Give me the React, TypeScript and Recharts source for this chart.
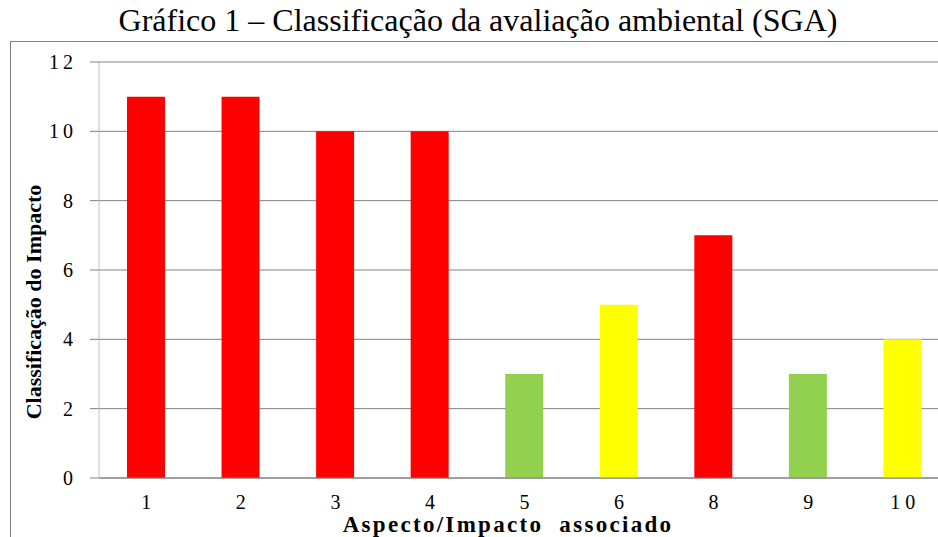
import React from 'react';
import { BarChart, Bar, XAxis, YAxis, CartesianGrid, Cell } from 'recharts';

const categories = ['1', '2', '3', '4', '5', '6', '8', '9', '10'];
const values = [11, 11, 10, 10, 3, 5, 7, 3, 4];
const levels = ['alto', 'alto', 'alto', 'alto', 'baixo', 'medio', 'alto', 'baixo', 'medio'];
const levelColors: Record<string, string> = { alto: '#FF0000', medio: '#FFFF00', baixo: '#92D050' };
const yTicks = [0, 2, 4, 6, 8, 10, 12];
const boundaryTicks = categories.map((_, i) => i).concat([categories.length]);
const title = 'Gráfico 1 – Classificação da avaliação ambiental (SGA)';
const xLabel = 'Aspecto/Impacto  associado';
const yLabel = 'Classificação do Impacto';

const data = categories.map((c, i) => ({ name: c, value: values[i], level: levels[i] }));

const FONT = '"Liberation Serif", "Times New Roman", serif';

const YTick = (props: any) => {
  const { x, y, payload } = props;
  return (
    <text x={x - 13} y={y + 7} textAnchor="end" fontFamily={FONT} fontSize={20} letterSpacing={4} fill="#000">
      {payload.value}
    </text>
  );
};

const XTick = (props: any) => {
  const { x, y, payload } = props;
  return (
    <text x={x + 2.5} y={y + 31} textAnchor="middle" fontFamily={FONT} fontSize={20} letterSpacing={5} fill="#000">
      {payload.value}
    </text>
  );
};

const EmptyTick = () => <g />;

export default function App() {
  return (
    <div style={{ position: 'fixed', left: 0, top: 0, width: 938, height: 537, overflow: 'hidden', background: '#fff' }}>
      <div
        style={{
          position: 'absolute',
          left: 10,
          top: 41,
          width: 1000,
          height: 600,
          borderLeft: '1px solid #808080',
          borderTop: '1px solid #808080',
        }}
      />
      <div
        style={{
          position: 'absolute',
          left: 0,
          top: 2,
          width: 956,
          textAlign: 'center',
          fontFamily: FONT,
          fontSize: 32,
          lineHeight: '36px',
          color: '#000',
          whiteSpace: 'nowrap',
        }}
      >
        {title}
      </div>
      <div style={{ position: 'absolute', left: 0, top: 0 }}>
        <BarChart width={960} height={537} data={data} margin={{ top: 62, right: 10, left: 0, bottom: 0 }}>
          <CartesianGrid horizontal vertical={false} stroke="#808080" strokeWidth={1} />
          <XAxis
            xAxisId="bounds"
            type="number"
            domain={[0, categories.length]}
            ticks={boundaryTicks}
            allowDataOverflow
            height={0}
            axisLine={false}
            tickLine={{ stroke: '#808080' }}
            tickSize={6}
            tick={EmptyTick}
            interval={0}
          />
          <XAxis
            xAxisId="cat"
            dataKey="name"
            height={59}
            axisLine={{ stroke: '#808080' }}
            tickLine={false}
            tickSize={0}
            tickMargin={0}
            tick={XTick}
            interval={0}
          />
          <YAxis
            domain={[0, 12]}
            ticks={yTicks}
            width={99}
            axisLine={{ stroke: '#c0c0c0' }}
            tickLine={{ stroke: '#808080' }}
            tickSize={9}
            tickMargin={0}
            tick={YTick}
            interval={0}
          />
          <Bar dataKey="value" xAxisId="cat" barSize={38} isAnimationActive={false}>
            {data.map((d, i) => (
              <Cell key={i} fill={levelColors[d.level]} />
            ))}
          </Bar>
        </BarChart>
      </div>
      <div
        style={{
          position: 'absolute',
          left: 508,
          top: 514,
          height: 22,
          transform: 'translateX(-50%)',
          fontFamily: FONT,
          fontWeight: 'bold',
          fontSize: 23,
          lineHeight: '22px',
          letterSpacing: 2.3,
          whiteSpace: 'pre',
          color: '#000',
        }}
      >
        {xLabel}
      </div>
      <div
        style={{
          position: 'absolute',
          left: 34,
          top: 302,
          transform: 'translate(-50%, -50%) rotate(-90deg)',
          fontFamily: FONT,
          fontWeight: 'bold',
          fontSize: 22,
          whiteSpace: 'nowrap',
          color: '#000',
        }}
      >
        {yLabel}
      </div>
    </div>
  );
}
